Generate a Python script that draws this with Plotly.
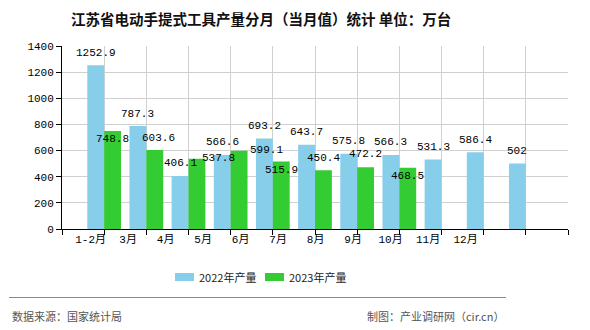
import plotly.graph_objects as go

months = ["1-2月", "3月", "4月", "5月", "6月", "7月", "8月", "9月", "10月", "11月", "12月"]
prod_2022 = [1252.9, 787.3, 406.1, 566.6, 693.2, 643.7, 575.8, 566.3, 531.3, 586.4, 502]
prod_2023 = [748.8, 603.6, 537.8, 599.1, 515.9, 450.4, 472.2, 468.5]
y_ticks = [0, 200, 400, 600, 800, 1000, 1200, 1400]

# label nudges (pixels) for the 2023 value labels, as in the reference
lab23_dx = [0, 4, 22, 27, 0, 0, 0, 0]
lab23_dy = [-8, 12, 1, 1, -8, 12, 13, -8]

W, H = 590, 330
L, R, T, B = 62, 568, 46, 229
C_BLUE = "#87CEEB"
C_GREEN = "#33CC33"
NUM_FONT = "Liberation Mono, Noto Sans CJK SC"
CJK = "Noto Sans CJK SC"


def px_x(p):
    return (p - L) / (R - L)


def px_y(p):
    return (B - p) / (B - T)


idx = list(range(len(months)))
fig = go.Figure()
fig.add_trace(go.Bar(x=idx, y=prod_2022, name="2022年产量", marker_color=C_BLUE,
                     marker_line_width=0, offsetgroup="a"))
fig.add_trace(go.Bar(x=idx[:len(prod_2023)], y=prod_2023, name="2023年产量",
                     marker_color=C_GREEN, marker_line_width=0, offsetgroup="b"))

ann = []
for i, v in enumerate(prod_2022):
    ann.append(dict(x=i - 0.2, y=v, xref="x", yref="y", text=f"{v:g}", showarrow=False,
                    yanchor="middle", yshift=12.5,
                    font=dict(family=NUM_FONT, size=11, color="#000")))
for i, v in enumerate(prod_2023):
    ann.append(dict(x=i + 0.2, y=v, xref="x", yref="y", text=f"{v:g}", showarrow=False,
                    yanchor="middle", xshift=lab23_dx[i], yshift=lab23_dy[i],
                    font=dict(family=NUM_FONT, size=11, color="#000")))

# title
ann.append(dict(x=px_x(261), y=px_y(18), xref="paper", yref="paper",
                text="江苏省电动手提式工具产量分月（当月值）统计 单位：万台", showarrow=False,
                xanchor="center", yanchor="middle",
                font=dict(family=CJK, size=14.5, color="#111", weight="bold")))

# legend (manual)
shapes = []
leg = [("2022年产量", C_BLUE, 175), ("2023年产量", C_GREEN, 265)]
for name, col, x0 in leg:
    shapes.append(dict(type="rect", xref="paper", yref="paper",
                       x0=px_x(x0), x1=px_x(x0 + 19), y0=px_y(281), y1=px_y(273),
                       fillcolor=col, line_width=0))
    ann.append(dict(x=px_x(x0 + 22), y=px_y(277), xref="paper", yref="paper", text=name,
                    showarrow=False, xanchor="left", yanchor="middle",
                    font=dict(family=CJK, size=11, color="#222")))

# footer
shapes.append(dict(type="line", xref="paper", yref="paper", x0=px_x(9), x1=px_x(506),
                   y0=px_y(297.5), y1=px_y(297.5), line=dict(color="#888", width=1)))
ann.append(dict(x=px_x(10), y=px_y(316), xref="paper", yref="paper", text="数据来源：国家统计局",
                showarrow=False, xanchor="left", yanchor="middle",
                font=dict(family=CJK, size=11, color="#555")))
ann.append(dict(x=px_x(506), y=px_y(316), xref="paper", yref="paper",
                text="制图：产业调研网（cir.cn）",
                showarrow=False, xanchor="right", yanchor="middle",
                font=dict(family=CJK, size=11, color="#555")))

label_pos = [-0.32 + 0.889 * i for i in idx]

fig.update_layout(
    width=W, height=H,
    margin=dict(l=L, r=W - R, t=T, b=H - B),
    paper_bgcolor="white", plot_bgcolor="white",
    barmode="group", bargap=0.2, bargroupgap=0,
    showlegend=False,
    annotations=ann, shapes=shapes,
    xaxis=dict(range=[-1, 11], tickmode="array", tickvals=label_pos, ticktext=months,
               ticks="", showgrid=False, zeroline=False,
               showline=True, linecolor="#000", linewidth=1,
               tickfont=dict(family=NUM_FONT, size=11, color="#000"),
               minor=dict(tickmode="array", tickvals=list(range(-1, 12)), showgrid=True,
                          gridcolor="#d0d0d0", gridwidth=1, ticks="outside", ticklen=5,
                          tickcolor="#000")),
    yaxis=dict(range=[0, 1400], tickmode="array", tickvals=y_ticks, showgrid=True,
               gridcolor="#d0d0d0", gridwidth=1, zeroline=False,
               showline=True, linecolor="#000", linewidth=1,
               ticks="outside", ticklen=5, tickcolor="#000",
               tickfont=dict(family=NUM_FONT, size=11, color="#000")),
)

fig.write_html("out.html")
